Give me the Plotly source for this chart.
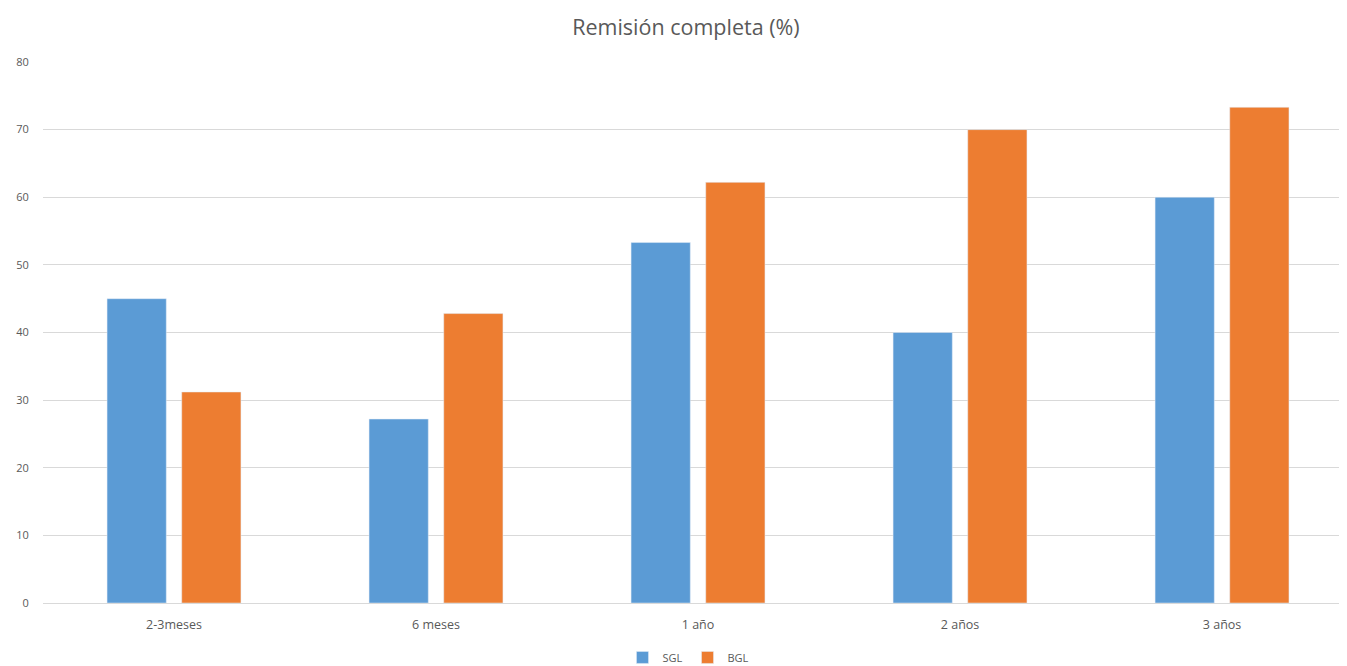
import plotly.graph_objects as go

categories = ["2-3meses", "6 meses", "1 año", "2 años", "3 años"]
sgl = [45, 27.2, 53.3, 40, 60]
bgl = [31.2, 42.8, 62.2, 70, 73.3]
y_ticks = [0, 10, 20, 30, 40, 50, 60, 70, 80]

FONT = "Open Sans"
GRAY = "#595959"

fig = go.Figure()
fig.add_trace(go.Bar(name="SGL", x=categories, y=sgl, marker_color="#5B9BD5"))
fig.add_trace(go.Bar(name="BGL", x=categories, y=bgl, marker_color="#ED7D31"))

fig.update_layout(
    width=1339, height=658,
    margin=dict(l=35, r=0, t=54, b=63),
    paper_bgcolor="white", plot_bgcolor="white",
    barmode="group", bargap=0.43, bargroupgap=0.207,
    title=dict(text="Remisión completa (%)", x=0.5063, xanchor="center",
               y=0.970, yanchor="middle",
               font=dict(family=FONT, size=21.5, color=GRAY)),
    font=dict(family=FONT, size=12, color=GRAY),
    legend=dict(orientation="h", x=0.495, xanchor="center",
                yref="container", y=0.013, yanchor="middle",
                font=dict(family=FONT, size=11, color=GRAY), itemwidth=30,
                traceorder="normal"),
    showlegend=True,
)
fig.update_yaxes(range=[0, 80], tickvals=y_ticks, showgrid=True, gridcolor="#D9D9D9",
                 gridwidth=1, zeroline=False, showline=False, automargin=False,
                 ticks="outside", ticklen=11, tickcolor="rgba(0,0,0,0)",
                 tickfont=dict(family=FONT, size=11, color=GRAY))
fig.update_xaxes(range=[-0.5, 4.477], showline=True, linecolor="#D9D9D9", linewidth=1,
                 showgrid=False, automargin=False,
                 ticks="outside", ticklen=10, tickcolor="rgba(0,0,0,0)",
                 tickfont=dict(family=FONT, size=12.5, color=GRAY))

fig.write_html("out.html")
